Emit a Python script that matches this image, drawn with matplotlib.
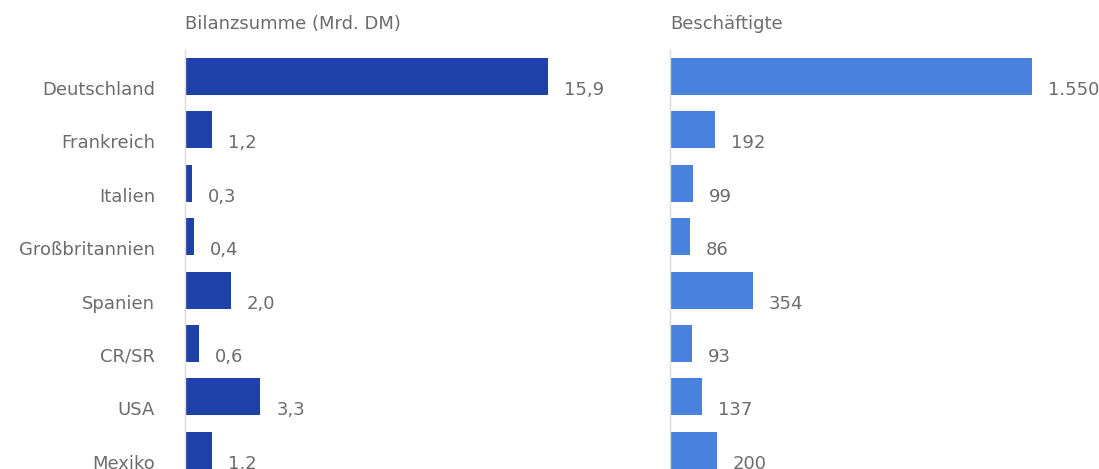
import matplotlib.pyplot as plt

plt.rcParams['font.family'] = ['DejaVu Sans']

laender = ['Deutschland', 'Frankreich', 'Italien', 'Großbritannien',
           'Spanien', 'CR/SR', 'USA', 'Mexiko']
bilanzsumme = [15.9, 1.2, 0.3, 0.4, 2.0, 0.6, 3.3, 1.2]
beschaeftigte = [1550, 192, 99, 86, 354, 93, 137, 200]

W, H = 1099, 469
fig = plt.figure(figsize=(W / 100, H / 100), dpi=100)

text_col = '#6c6c6c'
fs = 13
bar_h = 0.69
ylim = (7.35, -0.496)
ax_top = 50  # pixel row of the axes top edge


def panel(x0, width, xmax, values, color, title, fmt, with_names):
    ax = fig.add_axes([x0 / W, 0, width / W, (H - ax_top) / H])
    pos = range(len(values))
    ax.barh(pos, values, height=bar_h, color=color, edgecolor='none')
    ax.set_xlim(0, xmax)
    ax.set_ylim(*ylim)
    ax.set_xticks([])
    ax.set_yticks([])
    for s in ['top', 'right', 'bottom']:
        ax.spines[s].set_visible(False)
    ax.spines['left'].set_color('#dcdcd6')
    ax.spines['left'].set_linewidth(1.0)
    # text sits on the bottom edge of each bar
    for i, v in enumerate(values):
        ax.annotate(fmt(v), xy=(v, i + bar_h / 2), xytext=(16, 0),
                    textcoords='offset pixels', ha='left', va='baseline',
                    fontsize=fs, color=text_col, annotation_clip=False)
        if with_names:
            ax.annotate(laender[i], xy=(0, i + bar_h / 2), xytext=(-30, 0),
                        textcoords='offset pixels', ha='right', va='baseline',
                        fontsize=fs, color=text_col, annotation_clip=False)
    fig.text(x0 / W, 1 - 29 / H, title, ha='left', va='baseline',
             fontsize=fs, color=text_col)
    return ax


panel(185, 365, 16, bilanzsumme, '#1e42a9', 'Bilanzsumme (Mrd. DM)',
      lambda v: f'{v:.1f}'.replace('.', ','), True)
panel(670, 374, 1600, beschaeftigte, '#4a80de', 'Beschäftigte',
      lambda v: f'{v:,}'.replace(',', '.'), False)

fig.savefig('out.png', dpi=100)
